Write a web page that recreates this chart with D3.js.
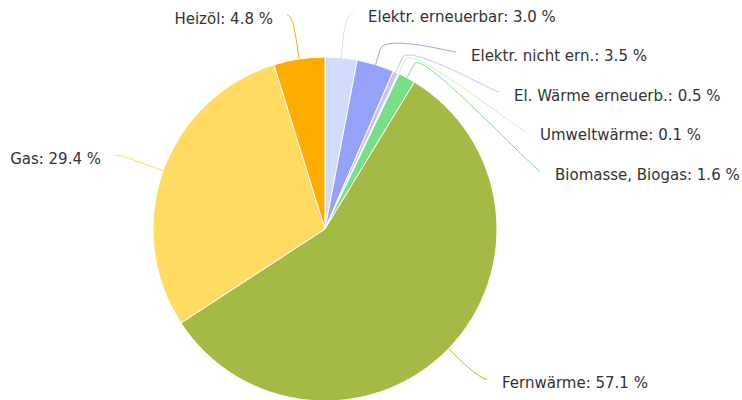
<!DOCTYPE html>
<html>
<head>
    <meta charset="utf-8">
    <title>Energieträger Anteile</title>
    <script src="https://d3js.org/d3.v7.min.js"></script>
    <style>
        body { margin: 0; background: #fff; }
    </style>
</head>
<body>
    <script>

        // data
        var categories = ["Elektr. erneuerbar", "Elektr. nicht ern.", "El. Wärme erneuerb.", "Umweltwärme",
            "Biomasse, Biogas", "Fernwärme", "Gas", "Heizöl"];
        var shares = [3.0, 3.5, 0.5, 0.1, 1.6, 57.1, 29.4, 4.8];
        var colors = ["#d1dbfc", "#96a2fa", "#cdbff9", "#c2f5c0", "#76e086", "#a3ba44", "#ffdb62", "#ffab00"];

        // where each label's connector ends (layout, not data)
        var labelAnchors = [[353, 13], [456, 52], [499, 92], [525, 131], [540, 171], [487, 379], [115, 155], [287, 15]];

        var width = 742, height = 400;
        var cx = 325, cy = 229, radius = 172;
        var breakOffset = 16;

        var svg = d3.select("body")
            .append("svg")
            .attr("width", width)
            .attr("height", height);

        var pie = d3.pie().sort(null).value(function(d) { return d; });
        var arcs = pie(shares);

        var arc = d3.arc().innerRadius(0).outerRadius(radius);

        var g = svg.append("g")
            .attr("transform", "translate(" + cx + "," + cy + ")");

        g.selectAll("path.slice")
            .data(arcs)
            .join("path")
            .attr("class", "slice")
            .attr("d", arc)
            .attr("fill", function(d, i) { return colors[i]; })
            .attr("stroke", "#ffffff")
            .attr("stroke-width", 1)
            .attr("stroke-linejoin", "round");

        function polar(a, r) {
            return [cx + r * Math.sin(a), cy - r * Math.cos(a)];
        }

        // connectors (soft connector like highcharts)
        svg.selectAll("path.connector")
            .data(arcs)
            .join("path")
            .attr("class", "connector")
            .attr("fill", "none")
            .attr("stroke", function(d, i) { return colors[i]; })
            .attr("stroke-width", 1)
            .attr("d", function(d, i) {
                var mid = (d.startAngle + d.endAngle) / 2;
                var p3 = polar(mid, radius);
                var p2 = polar(mid, radius + breakOffset);
                var e = labelAnchors[i];
                var right = e[0] > cx;
                var c1 = [e[0] + (right ? -5 : 5), e[1]];
                var c2 = [2 * p2[0] - p3[0], 2 * p2[1] - p3[1]];
                return "M" + e[0] + "," + e[1] +
                    "C" + c1[0] + "," + c1[1] + " " + c2[0] + "," + c2[1] + " " + p2[0] + "," + p2[1] +
                    "L" + p3[0] + "," + p3[1];
            });

        svg.selectAll("text.label")
            .data(arcs)
            .join("text")
            .attr("class", "label")
            .attr("x", function(d, i) {
                var e = labelAnchors[i];
                return e[0] > cx ? e[0] + 15 : e[0] - 14;
            })
            .attr("y", function(d, i) { return labelAnchors[i][1] + 4; })
            .attr("dominant-baseline", "central")
            .attr("text-anchor", function(d, i) { return labelAnchors[i][0] > cx ? "start" : "end"; })
            .style("font-family", "'DejaVu Sans', sans-serif")
            .style("font-size", "15px")
            .style("fill", "#333333")
            .text(function(d, i) { return categories[i] + ": " + shares[i].toFixed(1) + " %"; });

    </script>
</body>
</html>
